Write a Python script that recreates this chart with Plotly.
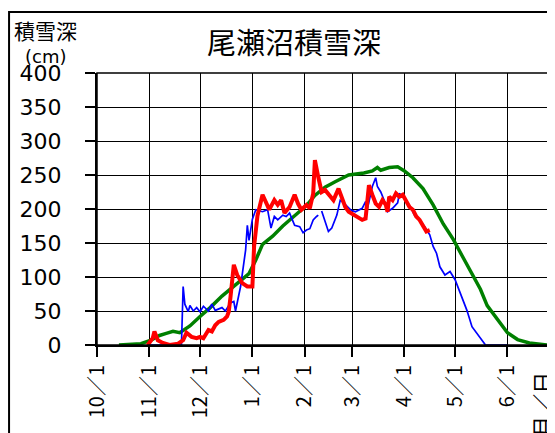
import plotly.graph_objects as go

# x = days since 10/1
month_ticks = [0, 31, 61, 92, 123, 151, 182, 212, 243]
month_labels = ["10／1", "11／1", "12／1", "1／1", "2／1", "3／1", "4／1", "5／1", "6／1"]

# 平年 (green)
avg_day = [13, 26, 32, 37, 41, 45, 49, 55, 61, 67, 74, 80, 85, 90, 94, 98, 104, 110, 117,
           124, 129, 135, 141, 149, 158, 163, 166, 168, 173, 178, 182, 187, 193, 199, 205,
           211, 216, 221, 227, 231, 237, 243, 249, 256, 267]
avg_val = [0, 2, 7, 14, 17, 20, 18, 28, 42, 55, 72, 85, 95, 105, 125, 148, 160, 175, 190,
           205, 220, 232, 240, 250, 253, 256, 261, 257, 261, 262, 256, 246, 230, 206, 178,
           155, 132, 108, 82, 58, 38, 18, 8, 3, 0]

# 前年 (blue)
prev_day = [31, 50, 51, 52, 54, 55, 57, 59, 61, 63, 66, 68, 70, 74, 76, 79, 81, 82, 85, 88,
            89, 90, 92, 94, 98, 101, 103, 105, 107, 110, 112, 114, 117, 120, 122, 124, 126,
            128, 130, 131, 132, 133, 135, 137, 139, 142, 144, 146, 150, 153, 157, 159, 160,
            163, 165, 166, 168, 170, 172, 175, 178, 179, 181, 183, 186, 188, 191, 194, 197,
            199, 201, 203, 206, 209, 212, 215, 219, 222, 227, 230, 243]
prev_val = [0, 0, 86, 60, 49, 58, 50, 55, 49, 57, 50, 60, 51, 55, 50, 62, 64, 50, 86, 140,
            176, 154, 185, 199, 196, 199, 172, 189, 184, 191, 189, 194, 176, 174, 165, 169, 171,
            184, 189, 191, None, 197, 181, 167, 172, 191, 213, 209, 199, 196, 201, 211, 199,
            233, 246, 233, 225, 213, 196, 201, 209, 223, 218, 213, 201, 191, 184, 174, 162,
            145, 135, 115, 103, 108, 96, 76, 51, 27, 9, 0, 0]

# 今年 (red)
cur_day = [30, 33, 34, 36, 39, 43, 48, 51, 53, 56, 59, 61, 63, 66, 68, 70, 72, 75, 77, 78,
           79, 81, 83, 86, 89, 92, 93, 95, 98, 100, 102, 105, 107, 109, 111, 114, 117, 119,
           121, 124, 126, 128, 129, 131, 133, 135, 138, 140, 143, 145, 147, 149, 152, 155,
           157, 159, 161, 163, 165, 167, 169, 171, 172, 173, 175, 177, 179, 181, 183, 185,
           187, 189, 191, 193, 195, 197]
cur_val = [0, 10, 20, 7, 3, 0, 2, 7, 18, 12, 10, 12, 10, 22, 20, 29, 34, 37, 42, 49,
           70, 118, 103, 91, 86, 86, 145, 190, 221, 208, 199, 213, 206, 213, 194, 203, 221, 208,
           199, 206, 201, 223, 272, 247, 225, 228, 218, 213, 230, 216, 203, 196, 191, 186,
           184, 186, 235, 221, 208, 203, 213, 206, 196, 218, 213, 223, 218, 221, 213, 203,
           199, 189, 184, 176, 167, 169]

FONT = "DejaVu Sans, Noto Sans CJK JP, sans-serif"
JFONT = "Noto Sans CJK JP, sans-serif"

fig = go.Figure()
fig.add_trace(go.Scatter(x=avg_day, y=avg_val, mode="lines",
                         line=dict(color="#008000", width=3.5), connectgaps=False))
fig.add_trace(go.Scatter(x=prev_day, y=prev_val, mode="lines",
                         line=dict(color="#0000FF", width=1.7), connectgaps=False))
fig.add_trace(go.Scatter(x=cur_day, y=cur_val, mode="lines",
                         line=dict(color="#FF0000", width=4), connectgaps=False))

OFF = 8  # page body offset
W, H = 555, 433
L = 97 - OFF
T = 73 - OFF
R = W - (549.3 - OFF)
B = H - (345 - OFF)
pw = W - L - R
ph = H - T - B


def px(sx):
    return (sx - OFF - L) / pw


def py(sy):
    return (H - B - (sy - OFF)) / ph


fig.update_layout(
    width=W, height=H,
    margin=dict(l=L, r=R, t=T, b=B, pad=0),
    paper_bgcolor="white", plot_bgcolor="white",
    showlegend=False,
    xaxis=dict(range=[0, 267.6], tickvals=month_ticks, ticktext=month_labels,
               tickangle=-90, ticks="outside", ticklen=10, tickwidth=2, tickcolor="black",
               showgrid=True, gridcolor="black", gridwidth=1,
               showline=True, linecolor="black", linewidth=2, zeroline=False,
               tickfont=dict(family=JFONT, size=20, color="black"),
               ticklabelstandoff=0, automargin=False),
    yaxis=dict(range=[0, 400], dtick=50, ticks="outside", ticklen=10, tickwidth=2,
               tickcolor="black", showgrid=True, gridcolor="black", gridwidth=1,
               showline=True, linecolor="black", linewidth=2, zeroline=False,
               tickfont=dict(family=FONT, size=22, color="black"),
               ticklabelstandoff=19, automargin=False),
    shapes=[
        dict(type="rect", xref="paper", yref="paper", x0=0, x1=1, y0=0, y1=1,
             line=dict(color="black", width=1.5), layer="above"),
        dict(type="rect", xref="paper", yref="paper", x0=px(9), x1=px(575), y0=py(455), y1=py(12),
             line=dict(color="black", width=2), layer="above"),
    ],
    annotations=[
        dict(text="尾瀬沼積雪深", x=px(294), y=py(41), xref="paper", yref="paper",
             showarrow=False, xanchor="center", yanchor="middle",
             font=dict(family=JFONT, size=29, color="black")),
        dict(text="積雪深", x=px(45), y=py(30), xref="paper", yref="paper",
             showarrow=False, xanchor="center", yanchor="middle",
             font=dict(family=JFONT, size=21, color="black")),
        dict(text="(cm)", x=px(45), y=py(56), xref="paper", yref="paper",
             showarrow=False, xanchor="center", yanchor="middle",
             font=dict(family=FONT, size=18, color="black")),
        dict(text="月／日", x=px(541), y=py(405), xref="paper", yref="paper",
             showarrow=False, xanchor="center", yanchor="middle", textangle=-90,
             font=dict(family=JFONT, size=22, color="black")),
    ],
)

fig.write_html("out.html")
